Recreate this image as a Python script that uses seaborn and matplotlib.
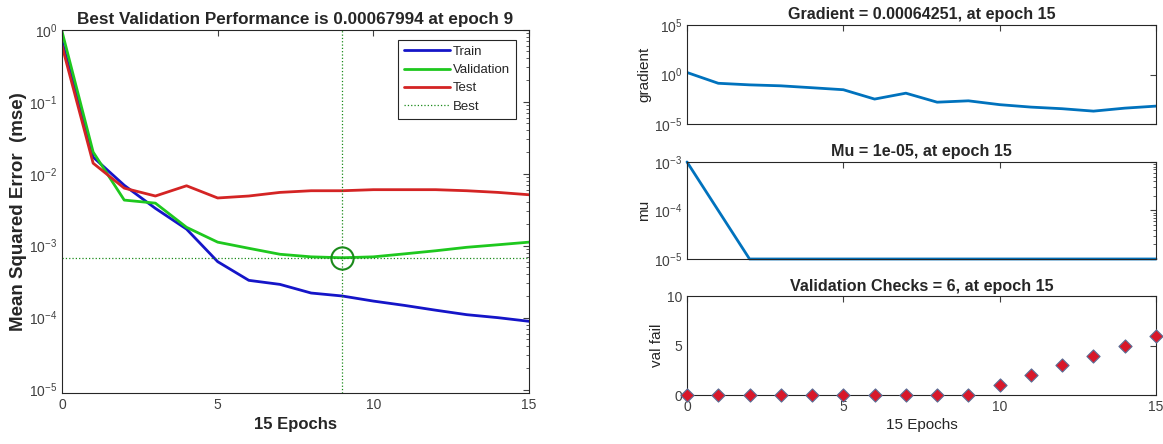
import numpy as np
import pandas as pd
import matplotlib
matplotlib.use("Agg")
import matplotlib.pyplot as plt
from matplotlib.ticker import LogLocator, NullFormatter, FixedLocator
import seaborn as sns

# data
epochs = list(range(16))
train_mse = [0.7, 0.017, 0.0069, 0.0033, 0.0017, 0.0006, 0.00033, 0.00029,
             0.00022, 0.0002, 0.00017, 0.000148, 0.000127, 0.00011, 0.0001, 0.000089]
val_mse = [0.95, 0.02, 0.0043, 0.0039, 0.0018, 0.00112, 0.00092, 0.00076,
           0.0007, 0.00067994, 0.0007, 0.00077, 0.00085, 0.00095, 0.00103, 0.00112]
test_mse = [0.6, 0.014, 0.0063, 0.0049, 0.0068, 0.0046, 0.0049, 0.0055,
            0.0058, 0.0058, 0.006, 0.006, 0.006, 0.0058, 0.0055, 0.0051]
best_epoch = 9
best_perf = 0.00067994

gradient = [1.6, 0.13, 0.09, 0.072, 0.046, 0.029, 0.0033, 0.013,
            0.0016, 0.0022, 0.0009, 0.00051, 0.00035, 0.0002, 0.0004, 0.00064251]
mu = [1e-3, 1e-4] + [1e-5] * 14
val_fail = [0, 0, 0, 0, 0, 0, 0, 0, 0, 0, 1, 2, 3, 4, 5, 6]

series_names = ["Train", "Validation", "Test"]
series_colors = ["#1515c8", "#1ec81e", "#d42424"]

sns.set_style("white")
plt.rcParams['font.family'] = ['Liberation Sans', 'DejaVu Sans']
plt.rcParams['text.color'] = '#262626'
plt.rcParams['axes.labelcolor'] = '#262626'
plt.rcParams['xtick.color'] = '#404040'
plt.rcParams['ytick.color'] = '#404040'
plt.rcParams['axes.edgecolor'] = '#262626'

fig = plt.figure(figsize=(11.63, 4.44), dpi=100)

def matlab_box(ax):
    for s in ax.spines.values():
        s.set_linewidth(0.8)
        s.set_visible(True)
    ax.tick_params(direction='in', top=True, right=True, length=4, labelsize=10,
                   which='major')
    ax.tick_params(direction='in', top=True, right=True, length=2, which='minor')

# ---- left: performance
ax = fig.add_axes([0.0533, 0.115, 0.4016, 0.818])
perf = pd.DataFrame({
    'epoch': epochs * 3,
    'mse': train_mse + val_mse + test_mse,
    'set': sum([[n] * len(epochs) for n in series_names], []),
})
sns.lineplot(data=perf, x='epoch', y='mse', hue='set', hue_order=series_names,
             palette=series_colors, linewidth=2, ax=ax, legend=False)
ax.set_yscale('log')
ax.set_xlim(0, 15)
ax.set_ylim(9e-6, 1.0)
best_col = '#1a8a1a'
ax.axvline(best_epoch, color=best_col, linestyle=':', linewidth=0.9)
ax.axhline(best_perf, color=best_col, linestyle=':', linewidth=0.9)
ax.plot([best_epoch], [best_perf], 'o', markersize=16, markerfacecolor='none',
        markeredgecolor=best_col, markeredgewidth=1.5)
ax.set_xticks([0, 5, 10, 15])
ax.yaxis.set_major_locator(FixedLocator([1e-5, 1e-4, 1e-3, 1e-2, 1e-1, 1e0]))
ax.yaxis.set_minor_locator(LogLocator(base=10, subs=np.arange(2, 10)))
ax.yaxis.set_minor_formatter(NullFormatter())
matlab_box(ax)
ax.set_title('Best Validation Performance is 0.00067994 at epoch 9',
             fontsize=12.3, fontweight='bold', pad=4)
ax.set_xlabel('15 Epochs', fontsize=12, fontweight='bold', labelpad=4)
ax.set_ylabel('Mean Squared Error  (mse)', fontsize=13.5, fontweight='bold', labelpad=1)
handles = [plt.Line2D([], [], color=c, linewidth=2) for c in series_colors]
handles.append(plt.Line2D([], [], color=best_col, linestyle=':', linewidth=0.9))
leg = ax.legend(handles, series_names + ['Best'], loc='upper right',
                bbox_to_anchor=(0.972, 0.972), fontsize=9.5, handlelength=3.5,
                fancybox=False, framealpha=1, edgecolor='#262626',
                borderpad=0.45, labelspacing=0.45, handletextpad=0.2,
                borderaxespad=0)
leg.get_frame().set_linewidth(0.8)

# ---- right: training state
line_col = '#0072BD'
left, width = 0.5907, 0.4033

ax1 = fig.add_axes([left, 0.7207, width, 0.223])
sns.lineplot(x=epochs, y=gradient, color=line_col, linewidth=2, ax=ax1)
ax1.set_yscale('log')
ax1.set_xlim(0, 15)
ax1.set_ylim(1e-5, 1e5)
ax1.yaxis.set_major_locator(FixedLocator([1e-5, 1e0, 1e5]))
ax1.yaxis.set_minor_locator(FixedLocator([]))
ax1.set_xticks([0, 5, 10, 15])
ax1.set_xticklabels([])
matlab_box(ax1)
ax1.set_title('Gradient = 0.00064251, at epoch 15', fontsize=11.6, fontweight='bold', pad=4)
ax1.set_ylabel('gradient', fontsize=11, labelpad=2)

ax2 = fig.add_axes([left, 0.4167, width, 0.2185])
sns.lineplot(x=epochs, y=mu, color=line_col, linewidth=2, ax=ax2)
ax2.set_yscale('log')
ax2.set_xlim(0, 15)
ax2.set_ylim(1e-5, 1e-3)
ax2.yaxis.set_major_locator(FixedLocator([1e-5, 1e-4, 1e-3]))
ax2.yaxis.set_minor_locator(LogLocator(base=10, subs=np.arange(2, 10)))
ax2.yaxis.set_minor_formatter(NullFormatter())
ax2.set_xticks([0, 5, 10, 15])
ax2.set_xticklabels([])
matlab_box(ax2)
for l in ax2.get_lines():
    l.set_clip_on(False)
ax2.set_title('Mu = 1e-05, at epoch 15', fontsize=11.6, fontweight='bold', pad=4)
ax2.set_ylabel('mu', fontsize=11, labelpad=2)

ax3 = fig.add_axes([left, 0.110, width, 0.223])
sns.scatterplot(x=epochs, y=val_fail, marker='D', s=45, color='#d8182a',
                edgecolor='#5a6e96', linewidth=0.8, ax=ax3, zorder=3, clip_on=False)
ax3.set_xlim(0, 15)
ax3.set_ylim(0, 10)
ax3.set_xticks([0, 5, 10, 15])
ax3.set_yticks([0, 5, 10])
matlab_box(ax3)
ax3.set_title('Validation Checks = 6, at epoch 15', fontsize=11.6, fontweight='bold', pad=4)
ax3.set_ylabel('val fail', fontsize=11, labelpad=2)
ax3.set_xlabel('15 Epochs', fontsize=11, labelpad=3)

fig.savefig('out.png', dpi=100)
